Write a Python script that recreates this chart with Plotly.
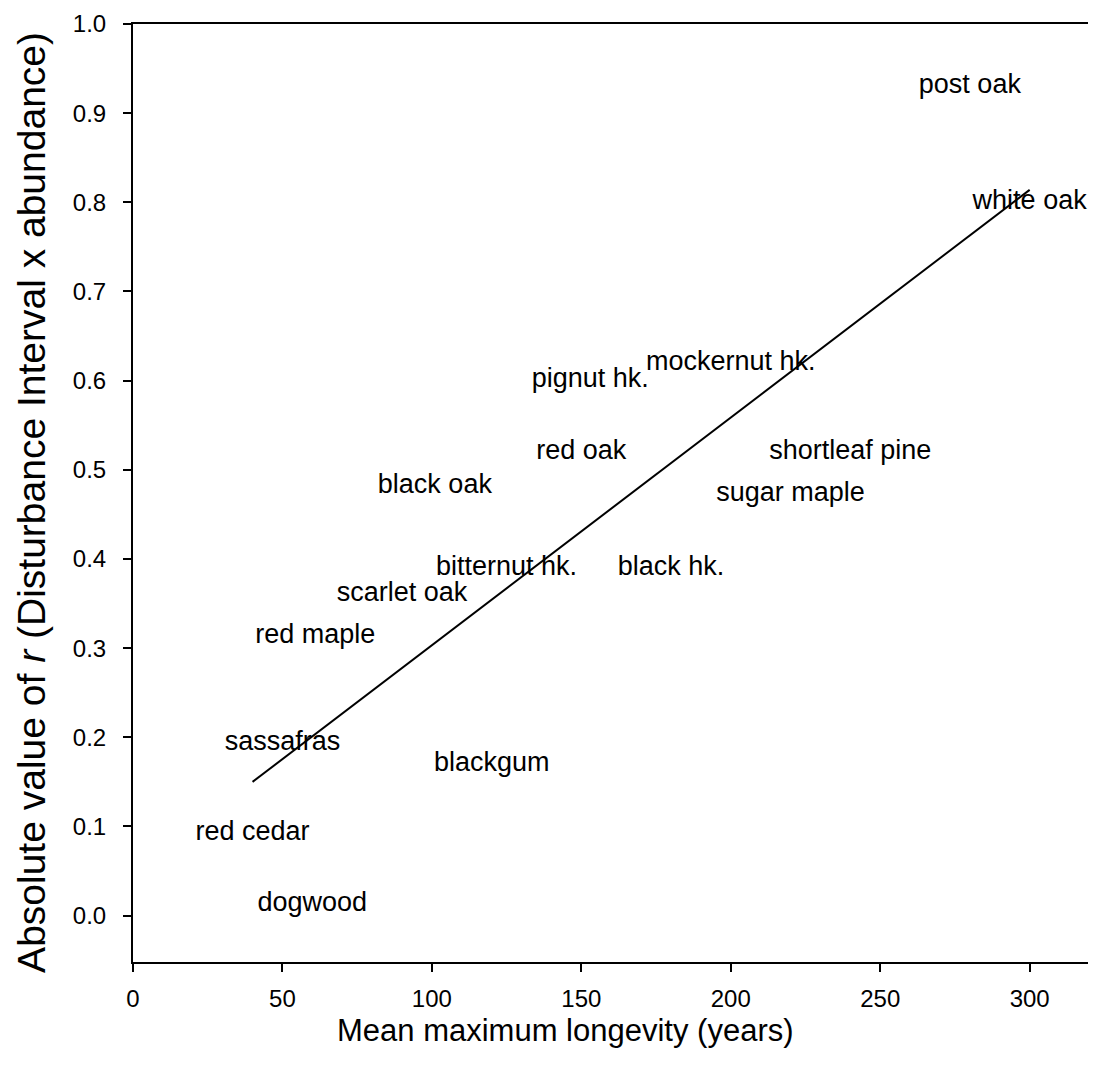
import plotly.graph_objects as go

species = ["post oak", "white oak", "mockernut hk.", "pignut hk.", "red oak",
           "shortleaf pine", "sugar maple", "black oak", "bitternut hk.", "black hk.",
           "scarlet oak", "red maple", "sassafras", "blackgum", "red cedar", "dogwood"]
longevity = [280, 300, 200, 153, 150, 240, 220, 101, 125, 180, 90, 61, 50, 120, 40, 60]
abs_r = [0.93, 0.80, 0.62, 0.60, 0.52, 0.52, 0.473, 0.482, 0.39, 0.39, 0.36, 0.313, 0.193, 0.17, 0.092, 0.013]

fit_x = [40, 300]
fit_y = [0.15, 0.814]

x_ticks = [0, 50, 100, 150, 200, 250, 300]
y_ticks = [0.0, 0.1, 0.2, 0.3, 0.4, 0.5, 0.6, 0.7, 0.8, 0.9, 1.0]

FONT = "Liberation Sans, Arial, sans-serif"

fig = go.Figure()
fig.add_trace(go.Scatter(x=fit_x, y=fit_y, mode="lines",
                         line=dict(color="black", width=2), showlegend=False,
                         hoverinfo="skip"))
fig.add_trace(go.Scatter(x=longevity, y=abs_r, mode="text", text=species,
                         textposition="middle center",
                         textfont=dict(family=FONT, size=27, color="black"),
                         showlegend=False))

fig.update_layout(
    width=1088, height=1064,
    margin=dict(l=125, r=0, t=16, b=110),
    paper_bgcolor="white", plot_bgcolor="white",
    font=dict(family=FONT, color="black"),
    xaxis=dict(range=[0, 322.2], tickvals=x_ticks, ticktext=[str(v) for v in x_ticks],
               showgrid=False, zeroline=False, showline=True, linecolor="black",
               linewidth=2, mirror=True, ticks="outside", ticklen=8, tickwidth=2,
               tickcolor="black", ticklabelstandoff=6,
               tickfont=dict(size=24, family=FONT)),
    yaxis=dict(range=[-0.052, 1.0], tickvals=y_ticks, ticktext=[f"{v:.1f}" for v in y_ticks],
               showgrid=False, zeroline=False, showline=True, linecolor="black",
               linewidth=2, mirror=False, ticks="outside", ticklen=8, tickwidth=2,
               tickcolor="black", ticklabelstandoff=12,
               tickfont=dict(size=24, family=FONT)),
    annotations=[
        dict(text="Mean maximum longevity (years)", xref="paper", yref="paper",
             x=0.4496, y=-0.052, xanchor="center", yanchor="top", showarrow=False,
             font=dict(size=31, family=FONT, color="black")),
        dict(text="Absolute value of <i>r</i> (Disturbance Interval x abundance)",
             xref="paper", yref="paper", x=-0.1298, y=0.490, xanchor="left",
             yanchor="middle", textangle=-90, showarrow=False,
             font=dict(size=39, family=FONT, color="black")),
    ],
)

fig.write_html("out.html")
